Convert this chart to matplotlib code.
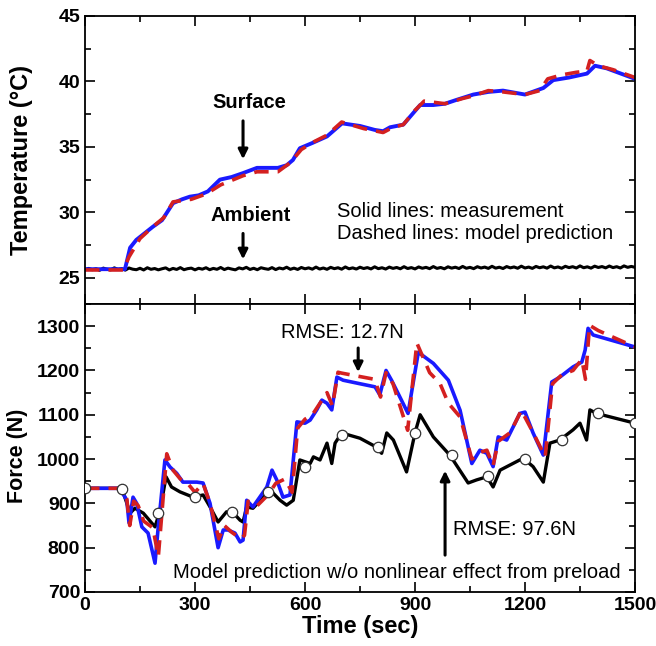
import matplotlib
matplotlib.use("Agg")
import matplotlib.pyplot as plt
from matplotlib.ticker import MultipleLocator

plt.rcParams['font.family'] = ['Liberation Sans', 'DejaVu Sans']

# ---------------- data ----------------
surf_meas_t = [0,109,123,140,158,185,210,240,265,286,310,335,368,400,431,469,526,550,567,586,620,660,701,750,790,813,832,868,914,950,982,1014,1059,1100,1140,1200,1250,1277,1320,1369,1391,1423,1500]
surf_meas_T = [25.66,25.66,27.3,27.9,28.3,28.9,29.4,30.7,31.0,31.2,31.3,31.6,32.5,32.7,33.0,33.4,33.4,33.6,34.0,34.9,35.3,35.8,36.8,36.6,36.3,36.2,36.5,36.7,38.2,38.2,38.3,38.6,39.0,39.2,39.3,39.0,39.5,40.1,40.3,40.6,41.2,41.0,40.2]

surf_model_t = [0,105,120,150,185,215,240,290,330,370,431,469,526,560,590,625,660,700,760,813,840,868,900,925,982,1030,1059,1100,1140,1200,1240,1262,1300,1340,1369,1377,1400,1440,1500]
surf_model_T = [25.6,25.6,26.6,28.0,28.9,29.6,30.8,31.0,31.4,32.1,32.8,33.1,33.1,33.8,34.8,35.4,35.9,36.9,36.4,36.1,36.5,36.7,37.8,38.5,38.3,38.7,38.9,39.3,39.2,39.0,39.3,40.2,40.5,40.7,40.8,41.6,41.2,40.9,40.3]

amb_t_step = 10
amb_T = [25.62,25.72,25.62,25.69,25.58,25.74,25.65,25.61,25.76,25.64,
         25.70,25.59,25.75,25.66,25.62,25.73,25.60,25.77,25.65,25.71,
         25.61,25.69,25.76,25.60,25.72,25.64,25.78,25.62,25.70,25.74,
         25.61,25.73,25.66,25.77,25.62,25.72,25.65,25.79,25.63,25.74,
         25.67,25.61,25.76,25.68,25.80,25.64,25.73,25.62,25.77,25.70,
         25.65,25.78,25.63,25.75,25.68,25.81,25.65,25.74,25.64,25.79,
         25.69,25.76,25.66,25.82,25.67,25.75,25.65,25.80,25.70,25.77,
         25.66,25.83,25.69,25.76,25.67,25.81,25.71,25.78,25.68,25.84,
         25.70,25.77,25.67,25.82,25.72,25.79,25.69,25.85,25.71,25.78,
         25.68,25.83,25.73,25.80,25.70,25.86,25.72,25.79,25.69,25.84,
         25.74,25.81,25.71,25.87,25.73,25.80,25.70,25.85,25.75,25.82,
         25.72,25.88,25.74,25.81,25.71,25.86,25.76,25.83,25.73,25.89,
         25.75,25.82,25.72,25.87,25.77,25.84,25.74,25.90,25.76,25.83,
         25.73,25.88,25.78,25.85,25.75,25.91,25.77,25.84,25.74,25.89,
         25.79,25.86,25.76,25.90,25.78,25.85,25.75,25.91,25.80,25.87,25.80]

force_meas_t = [0,95,114,120,131,141,155,172,191,199,218,232,250,267,286,305,322,341,363,377,390,409,423,431,441,458,496,510,523,540,559,578,600,614,632,646,660,673,687,704,750,791,804,821,836,881,909,950,991,1023,1055,1077,1096,1113,1127,1150,1186,1200,1222,1250,1273,1295,1331,1355,1364,1372,1386,1500]
force_meas_F = [934,934,907,856,914,900,847,833,765,840,998,982,968,948,948,948,946,900,800,840,840,833,813,817,907,892,937,975,953,914,919,1084,1081,1088,1111,1133,1126,1111,1185,1178,1170,1163,1145,1200,1178,1103,1241,1216,1178,1110,990,1020,1013,983,1050,1043,1103,1106,1059,1009,1174,1185,1208,1219,1246,1295,1280,1253]

force_model_t = [0,95,114,122,133,145,160,185,200,223,240,260,280,300,322,341,365,380,400,425,435,445,470,500,520,545,565,580,600,620,640,660,675,690,700,790,806,821,840,880,905,940,968,991,1023,1055,1077,1096,1113,1127,1160,1190,1222,1255,1275,1300,1331,1355,1365,1376,1400,1500]
force_model_F = [934,934,910,850,905,895,860,845,780,1012,975,955,945,925,945,900,820,850,835,820,828,905,895,920,945,955,925,1070,1090,1100,1125,1150,1120,1196,1194,1180,1140,1195,1170,1065,1262,1195,1171,1126,1095,1000,1015,1020,985,1040,1060,1110,1060,1005,1170,1190,1200,1225,1180,1302,1290,1253]

force_lin_t = [0,95,105,123,136,159,191,205,221,236,259,295,322,341,363,386,405,423,431,441,458,505,532,550,568,586,614,623,641,660,673,682,700,750,795,809,823,841,877,900,914,950,995,1045,1068,1096,1113,1132,1195,1222,1250,1268,1295,1331,1350,1368,1377,1395,1500]
force_lin_F = [934,934,923,878,889,878,847,885,960,937,926,914,919,892,858,881,878,862,858,892,889,930,907,896,907,998,990,1005,998,1036,990,1036,1059,1047,1027,1013,1059,1043,971,1059,1100,1050,1009,946,953,960,937,975,1002,983,948,1036,1043,1066,1081,1043,1111,1103,1081]

marker_t = [0,100,200,300,400,500,600,700,800,900,1000,1100,1200,1300,1400,1500]
marker_F = [934,932,878,914,881,926,982,1054,1027,1059,1009,962,1000,1043,1103,1081]

# ---------------- figure ----------------
fig = plt.figure(figsize=(6.56, 6.46), dpi=100)
L, R = 85/656, 635/656
yt, ym, yb = 1-16/646, 1-304/646, 1-592/646
ax1 = fig.add_axes([L, ym, R-L, yt-ym])
ax2 = fig.add_axes([L, yb, R-L, ym-yb], sharex=ax1)

blue = '#1a1aff'
red = '#d42020'

amb_t = [i*amb_t_step for i in range(len(amb_T))]
ax1.plot(amb_t, amb_T, color='black', lw=2.2)
ax1.plot(surf_meas_t, surf_meas_T, color=blue, lw=2.8)
ax1.plot(surf_model_t, surf_model_T, color=red, lw=2.6, ls=(0, (4, 2.5)))

ax2.plot(force_lin_t, force_lin_F, color='black', lw=2.4)
ax2.plot(marker_t, marker_F, ls='none', marker='o', ms=7.5, mfc='white', mec='#333333', mew=0.9, zorder=5)
ax2.plot(force_meas_t, force_meas_F, color=blue, lw=2.6)
ax2.plot(force_model_t, force_model_F, color=red, lw=2.6, ls=(0, (4, 2.5)))

ax1.set_ylim(23, 45)
ax2.set_ylim(700, 1350)
ax1.set_xlim(0, 1500)

for ax in (ax1, ax2):
    ax.tick_params(which='both', direction='in', top=True, right=True, width=1.2)
    ax.tick_params(which='major', length=7, labelsize=14)
    ax.tick_params(which='minor', length=4)
    for sp in ax.spines.values():
        sp.set_linewidth(1.3)

ax1.xaxis.set_major_locator(MultipleLocator(300))
ax1.xaxis.set_minor_locator(MultipleLocator(150))
ax1.yaxis.set_major_locator(MultipleLocator(5))
ax1.yaxis.set_minor_locator(MultipleLocator(2.5))
ax2.yaxis.set_major_locator(MultipleLocator(100))
ax2.yaxis.set_minor_locator(MultipleLocator(50))
plt.setp(ax1.get_xticklabels(), visible=False)
for lab in ax2.get_xticklabels() + ax2.get_yticklabels() + ax1.get_yticklabels():
    lab.set_fontweight('bold')

ax1.set_ylabel('Temperature (°C)', fontsize=17, fontweight='bold')
ax2.set_ylabel('Force (N)', fontsize=15.5, fontweight='bold')
ax1.yaxis.set_label_coords(-0.095, 0.5)
ax2.yaxis.set_label_coords(-0.104, 0.472)
ax2.set_xlabel('Time (sec)', fontsize=17, fontweight='bold', labelpad=1)

arr = dict(arrowstyle='-|>', color='black', lw=2.2, mutation_scale=14)
ax1.annotate('', xy=(431, 33.85), xytext=(431, 37.2), arrowprops=arr)
ax1.text(447, 38.36, 'Surface', ha='center', va='center', fontsize=14.5, fontweight='bold')
ax1.annotate('', xy=(431, 26.2), xytext=(431, 28.6), arrowprops=arr)
ax1.text(453, 29.75, 'Ambient', ha='center', va='center', fontsize=14.5, fontweight='bold')
ax1.text(687, 30.04, 'Solid lines: measurement', ha='left', va='center', fontsize=14.5)
ax1.text(687, 28.35, 'Dashed lines: model prediction', ha='left', va='center', fontsize=14.5)

ax2.text(701, 1286, 'RMSE: 12.7N', ha='center', va='center', fontsize=14.5)
ax2.annotate('', xy=(745, 1190), xytext=(745, 1257), arrowprops=arr)
ax2.annotate('', xy=(982, 980), xytext=(982, 777), arrowprops=arr)
ax2.text(1004, 840, 'RMSE: 97.6N', ha='left', va='center', fontsize=14.5)
ax2.text(1460, 743, 'Model prediction w/o nonlinear effect from preload', ha='right', va='center', fontsize=14.5)

fig.savefig('out.png', dpi=100)
